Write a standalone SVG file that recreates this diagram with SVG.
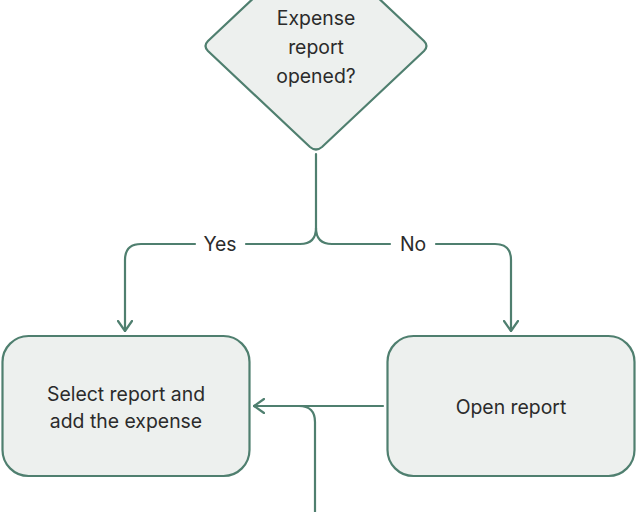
<svg xmlns="http://www.w3.org/2000/svg" width="637" height="512" viewBox="0 0 637 512">
<defs>
<style>
.node{fill:#edf0ee;stroke:#4f7f6f;stroke-width:2.2}
.edge{fill:none;stroke:#4f7f6f;stroke-width:2.2;stroke-linecap:round;stroke-linejoin:round}
.t{font-family:Inter,"Liberation Sans",sans-serif;font-size:19.4px;fill:#2b2b2b;text-anchor:middle}
</style>
<marker id="arr" viewBox="0 0 12 16" refX="11" refY="8" markerWidth="12" markerHeight="16" markerUnits="userSpaceOnUse" orient="auto">
<path d="M1,1 L11,8 L1,15" fill="none" stroke="#4f7f6f" stroke-width="2.2" stroke-linecap="round" stroke-linejoin="round"/>
</marker>
</defs>
<rect width="637" height="512" fill="#ffffff"/>
<g id="edges">
<path class="edge" d="M316,154 V228 Q316,244 300,244 H246"/>
<path class="edge" d="M195,244 H141 Q125,244 125,260 V331" marker-end="url(#arr)"/>
<path class="edge" d="M316,228 Q316,244 332,244 H390"/>
<path class="edge" d="M436,244 H495 Q511,244 511,260 V331" marker-end="url(#arr)"/>
<path class="edge" d="M383,406 H254" marker-end="url(#arr)"/>
<path class="edge" d="M315,512 V422 Q315,406 299,406"/>
</g>
<g id="decision">
<path class="node" d="M310,-55 Q316,-60 322,-55 L424,41 Q429,46 424,51 L322,147 Q316,152 310,147 L208,51 Q203,46 208,41 Z"/>
<text class="t" x="316" y="25">Expense</text>
<text class="t" x="316" y="54">report</text>
<text class="t" x="316" y="83">opened?</text>
</g>
<g id="select">
<rect class="node" x="2.5" y="336" width="247" height="140" rx="26"/>
<text class="t" x="126" y="401">Select report and</text>
<text class="t" x="126" y="428">add the expense</text>
</g>
<g id="open">
<rect class="node" x="387.5" y="336" width="247" height="140" rx="26"/>
<text class="t" x="511" y="414">Open report</text>
</g>
<g id="labels">
<text class="t" x="220" y="251">Yes</text>
<text class="t" x="413" y="251">No</text>
</g>
</svg>
